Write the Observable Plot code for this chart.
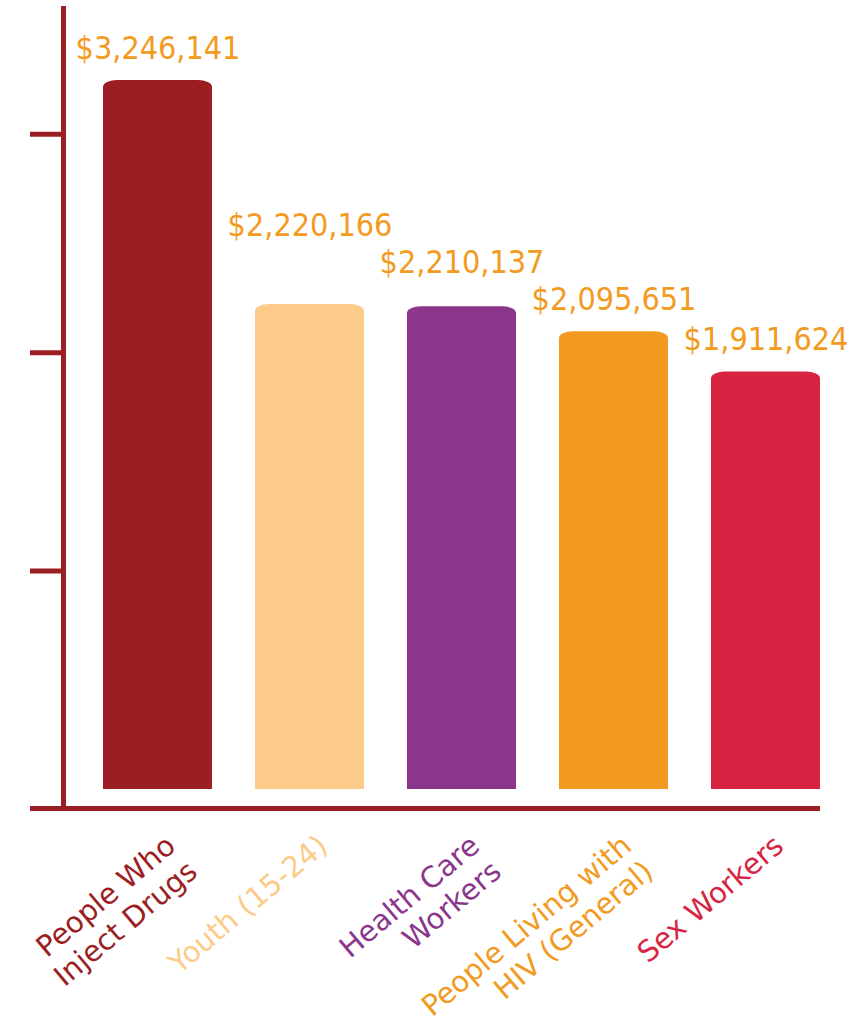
<!DOCTYPE html>
<html><head><meta charset="utf-8">
<script src="https://cdn.jsdelivr.net/npm/d3@7"></script>
<script src="https://cdn.jsdelivr.net/npm/@observablehq/plot@0.6"></script>
<style>body{margin:0;background:#fff;}</style>
</head><body><div id="chart"></div>
<script>
const categories = ["People Who\nInject Drugs", "Youth (15-24)", "Health Care\nWorkers", "People Living with\nHIV (General)", "Sex Workers"];
const values = [3246141, 2220166, 2210137, 2095651, 1911624];
const colors = ["#9B1E23", "#FCCB89", "#8B368B", "#F29A22", "#D92342"];
const yTicks = [1000000, 2000000, 3000000];
const yDomain = [-87000, 3576000];

const data = categories.map((c, i) => ({category: c, value: values[i], color: colors[i]}));
const axisColor = "#9B1E23";
const fmt = d3.format(",");

function build(labelMarks) {
  return Plot.plot({
    width: 853, height: 1031,
    marginTop: 8, marginLeft: 63, marginRight: 33, marginBottom: 223,
    x: {domain: categories, paddingInner: 0.28, paddingOuter: 0.1, insetLeft: 25, insetRight: -16, axis: null},
    y: {domain: yDomain, axis: null},
    marks: [
      Plot.barY(data, {x: "category", y1: 0, y2: "value", fill: "color", rx: 14, ry: 7}),
      Plot.barY(data, {x: "category", y1: 0, y2: "value", fill: "color", insetTop: 10}),
      Plot.axisY(yTicks, {tickSize: 33, tickFormat: () => "", label: null, stroke: axisColor, strokeWidth: 5}),
      Plot.frame({anchor: "left", stroke: axisColor, strokeWidth: 5}),
      Plot.ruleY([yDomain[0]], {stroke: axisColor, strokeWidth: 5, insetLeft: -33}),
      Plot.text(data, {x: "category", frameAnchor: "bottom", text: "category", rotate: -40, textAnchor: "end", lineAnchor: "top", dx: 4, dy: 22, fill: "color", fontSize: 29, fontFamily: "DejaVu Sans", lineHeight: 1.16}),
      ...labelMarks
    ]
  });
}

// first pass: get the y scale, then stagger value labels so they do not collide
const probe = build([]);
const ys = probe.scale("y");
const gap = 22, step = 37;
const labelPx = new Array(data.length);
for (let i = data.length - 1; i >= 0; i--) {
  let p = ys.apply(data[i].value) - gap;
  if (i < data.length - 1) p = Math.min(p, labelPx[i + 1] - step);
  labelPx[i] = p;
}
const labelData = data.map((d, i) => ({...d, labelY: ys.invert(labelPx[i])}));

const chart = build([
  Plot.text(labelData, {x: "category", y: "labelY", text: d => "$" + fmt(d.value), lineAnchor: "bottom", fill: "#F39A21", fontSize: 32, fontFamily: "DejaVu Sans Condensed"})
]);
document.getElementById("chart").append(chart);
</script>
</body></html>
